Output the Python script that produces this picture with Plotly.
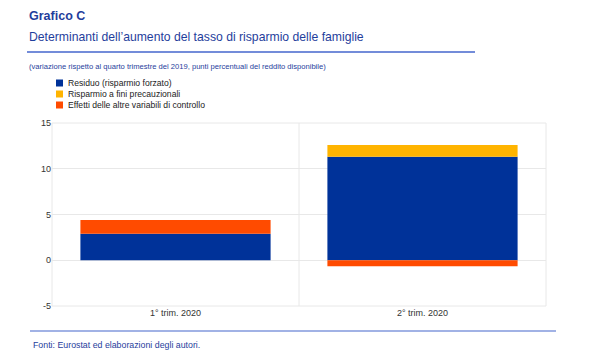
import plotly.graph_objects as go

categories = ["1° trim. 2020", "2° trim. 2020"]
residuo = [2.9, 11.3]
precauzionali = [0.0, 1.3]
altre = [1.5, -0.65]
series_names = ["Residuo (risparmio forzato)", "Risparmio a fini precauzionali",
                "Effetti delle altre variabili di controllo"]
colors = ["#003299", "#FFB400", "#FF4B00"]
y_ticks = [-5, 0, 5, 10, 15]
y_tick_labels = ["-5", "0", "5", "10", "15"]

FONT = "Liberation Sans, Arial, sans-serif"
BLUE = "#1F3E9C"

L, R, T, B = 52, 54, 123, 44
PW, PH = 600 - L - R, 350 - T - B


def px(x):
    return (x - L) / PW


def py(y):
    return (350 - B - y) / PH


fig = go.Figure()
for name, vals, col in zip(series_names, [residuo, precauzionali, altre], colors):
    fig.add_trace(go.Bar(x=categories, y=vals, name=name, marker_color=col,
                         marker_line_width=0, width=0.77, showlegend=False))

fig.update_layout(
    barmode="relative",
    width=600, height=350,
    margin=dict(l=L, r=R, t=T, b=B, autoexpand=False),
    paper_bgcolor="white", plot_bgcolor="white",
    font=dict(family=FONT, size=9, color="#333333"),
    showlegend=False,
    xaxis=dict(showgrid=False, ticks="", tickfont=dict(size=9, color="#333333"),
               showline=False, range=[-0.5, 1.5]),
    yaxis=dict(range=[-5, 15], tickvals=y_ticks, ticktext=y_tick_labels,
               showgrid=True, gridcolor="#E8E8E8",
               gridwidth=1, zeroline=True, zerolinecolor="#E8E8E8", zerolinewidth=1,
               ticks="", tickfont=dict(size=9, color="#333333"), showline=False),
)

# plot frame and category divider
fig.add_shape(type="rect", xref="paper", yref="paper", x0=0, x1=1, y0=0, y1=1,
              line=dict(color="#E8E8E8", width=1), layer="below")
fig.add_shape(type="line", xref="x", yref="paper", x0=0.5, x1=0.5, y0=0, y1=1,
              line=dict(color="#E8E8E8", width=1), layer="below")

# header / footer rules
fig.add_shape(type="line", xref="paper", yref="paper", x0=px(27), x1=px(475),
              y0=py(52), y1=py(52), line=dict(color="#4466CC", width=1.5))
fig.add_shape(type="line", xref="paper", yref="paper", x0=px(30), x1=px(556),
              y0=py(331), y1=py(331), line=dict(color="#4466CC", width=1.2))

fig.add_annotation(text="<b>Grafico C</b>", xref="paper", yref="paper",
                   x=px(27), y=py(16), xanchor="left", yanchor="middle",
                   showarrow=False, font=dict(size=12.5, color=BLUE, family=FONT))
fig.add_annotation(text="Determinanti dell’aumento del tasso di risparmio delle famiglie",
                   xref="paper", yref="paper", x=px(27), y=py(37),
                   xanchor="left", yanchor="middle", showarrow=False,
                   font=dict(size=12.2, color=BLUE, family=FONT))
fig.add_annotation(text="(variazione rispetto al quarto trimestre del 2019, punti percentuali del reddito disponibile)",
                   xref="paper", yref="paper", x=px(27), y=py(66),
                   xanchor="left", yanchor="middle", showarrow=False,
                   font=dict(size=7.6, color=BLUE, family=FONT))
fig.add_annotation(text="Fonti: Eurostat ed elaborazioni degli autori.",
                   xref="paper", yref="paper", x=px(31), y=py(345),
                   xanchor="left", yanchor="middle", showarrow=False,
                   font=dict(size=8.8, color=BLUE, family=FONT))

# legend (drawn manually for compact spacing)
for i, (name, col) in enumerate(zip(series_names, colors)):
    yc = 83 + 11 * i
    fig.add_shape(type="rect", xref="paper", yref="paper",
                  x0=px(56), x1=px(63), y0=py(yc + 3.5), y1=py(yc - 3.5),
                  line=dict(width=0), fillcolor=col)
    fig.add_annotation(text=name, xref="paper", yref="paper", x=px(66), y=py(yc),
                       xanchor="left", yanchor="middle", showarrow=False,
                       font=dict(size=8.6, color="#222222", family=FONT))

fig.write_html("out.html")
